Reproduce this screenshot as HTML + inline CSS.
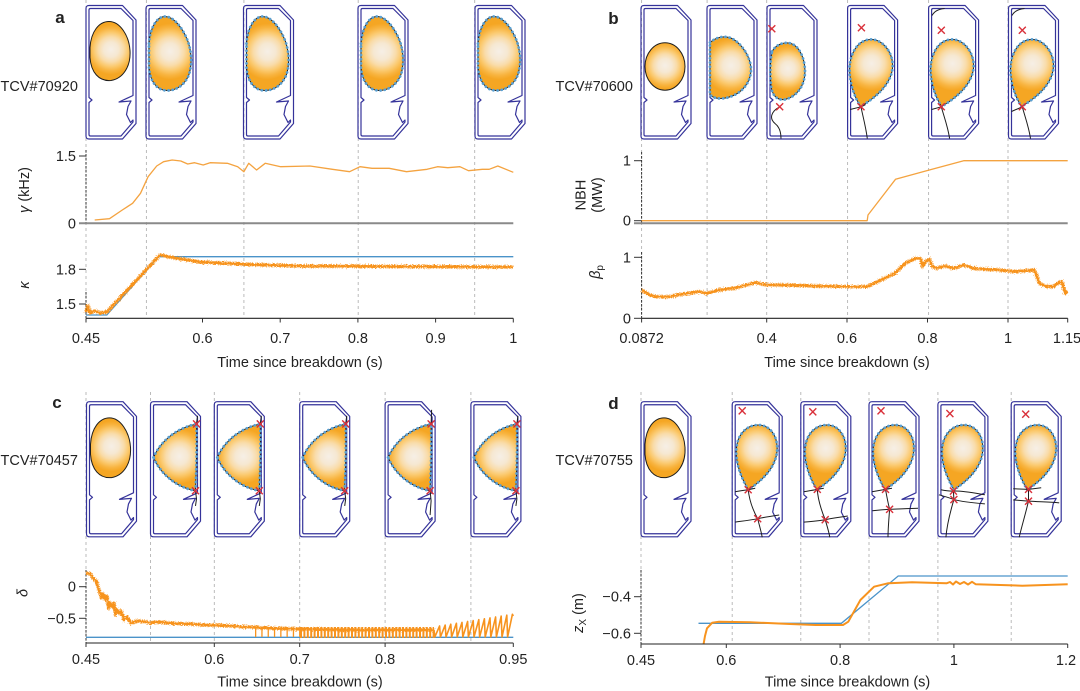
<!DOCTYPE html>
<html><head><meta charset="utf-8">
<style>
html,body{margin:0;padding:0;background:#fff;}
svg{display:block;}
text{font-family:"Liberation Sans",Arial,sans-serif;fill:#222;font-size:14.5px;}
.pl{stroke:#1e1e1e;stroke-width:1;}
.dt{fill:none;stroke:#5aa0d2;stroke-width:2.8;stroke-dasharray:0.01 4.2;stroke-linecap:round;}
.sx{fill:none;stroke:#1e1e1e;stroke-width:1;}
.grid{stroke:#b4b4b4;stroke-width:0.9;stroke-dasharray:3 3;}
.spine{stroke:#333;stroke-width:1;stroke-dasharray:2.5 1.5;}
.tk{stroke:#333;stroke-width:1;}
.ax{stroke:#222;stroke-width:1.1;}
.gax{stroke:#8a8a8a;stroke-width:2;}
.or{fill:none;stroke:#f7931e;stroke-width:3.2;stroke-linejoin:round;}
.ort{fill:none;stroke:#f4a340;stroke-width:1.3;stroke-linejoin:round;}
.bl{fill:none;stroke:#4a93c9;stroke-width:1.3;}
</style></head><body>
<svg width="1080" height="691" viewBox="0 0 1080 691" xmlns="http://www.w3.org/2000/svg">
<defs>
<linearGradient id="stops">
 <stop offset="0" stop-color="#f6efe6"/><stop offset="0.3" stop-color="#f6e8d2"/><stop offset="0.5" stop-color="#f9dcaa"/><stop offset="0.68" stop-color="#fbca70"/><stop offset="0.85" stop-color="#f8b440"/><stop offset="1" stop-color="#f5a623"/>
</linearGradient>
<radialGradient id="gD" href="#stops" gradientUnits="userSpaceOnUse" cx="25" cy="44" r="25"/>
<radialGradient id="gE" href="#stops" gradientUnits="userSpaceOnUse" cx="24" cy="46" r="28"/>
<radialGradient id="gC" href="#stops" gradientUnits="userSpaceOnUse" cx="24" cy="60" r="23"/>
<radialGradient id="gB2" href="#stops" gradientUnits="userSpaceOnUse" cx="24" cy="60" r="27"/>
<radialGradient id="gB3" href="#stops" gradientUnits="userSpaceOnUse" cx="21" cy="63" r="23"/>
<radialGradient id="gBX" href="#stops" gradientUnits="userSpaceOnUse" cx="24" cy="58" r="27"/>
<radialGradient id="gT" href="#stops" gradientUnits="userSpaceOnUse" cx="29" cy="54" r="27"/>
<radialGradient id="gDX" href="#stops" gradientUnits="userSpaceOnUse" cx="25" cy="46" r="25"/>
<filter id="nz" filterUnits="userSpaceOnUse" x="0" y="0" width="1080" height="691">
 <feTurbulence type="fractalNoise" baseFrequency="1.1 0.9" numOctaves="1" seed="4" result="t"/>
 <feDisplacementMap in="SourceGraphic" in2="t" scale="5.5" xChannelSelector="R" yChannelSelector="G"/>
</filter>
<g id="ves" fill="none" stroke="#35339a" stroke-width="1.2" stroke-linejoin="round">
 <path d="M3,0 H36.5 L50,14.5 V118 L36.5,133.5 H3 Q0,133.5 0,130.5 V3 Q0,0 3,0 Z"/>
 <path d="M4.5,3 H35 L47,15 V90 L33,96.5 L45,95.5 L42,101 L40.5,109 L44.5,117 L47,114.5 V116.5 L35,130.5 H4.5 Q3,130.5 3,129 V97 L6,94.5 L3,92 V4.5 Q3,3 4.5,3 Z"/>
</g>
<path id="sD" d="M4,42 C5,26 13,16 23,16 C34,16 43,30 44,45 C45,61 37,73 25,75 C13,76 5,67 4,52 Z"/>
<path id="sE" d="M3,38 C4,22 11,11 19,11 C28,11 37,23 42,36 C46,48 46,59 43,69 C39,79 31,85 21,85 C11,85 4,76 3,62 Z"/>
<ellipse id="sC" cx="24" cy="61" rx="20" ry="23.7"/>
<path id="sB2" d="M3,37 C10,31 18,30 25,33 C36,39 44,53 44,64 C44,77 35,88 21,92 C13,94 6,93 3,89 Z"/>
<path id="sB3" d="M5,46 C9,39 17,36 24,38 C33,41 38,54 38,66 C38,80 30,91 18,94 C10,95 5,90 4,80 C3,68 3,56 5,46 Z"/>
<path id="sBX" d="M13,101 C7,92 2,78 2,64 C2,48 10,35 22,34 C34,33 44,45 45,58 C46,73 35,88 13,101 Z"/>
<path id="sT" d="M3,55 C10,39 26,26 46,22 C46.5,45 46,66 45,88 C27,85 10,72 3,55 Z"/>
<path id="sDX" d="M16,87 C9,75 4,62 4,50 C4,33 14,23 26,23 C38,23 45,34 45,46 C45,62 33,76 16,87 Z"/>
<path id="xm" d="M-3.5,-3.5 L3.5,3.5 M-3.5,3.5 L3.5,-3.5" fill="none" stroke="#d9303a" stroke-width="1.4"/>
</defs>

<!-- ================= PANEL A ================= -->
<g>
<line class="grid" x1="86" y1="0" x2="86" y2="318"/>
<line class="grid" x1="146.4" y1="0" x2="146.4" y2="318"/>
<line class="grid" x1="243.9" y1="0" x2="243.9" y2="318"/>
<line class="grid" x1="358.2" y1="0" x2="358.2" y2="318"/>
<line class="grid" x1="474.7" y1="0" x2="474.7" y2="318"/>

<g transform="translate(86,5.5)"><use href="#ves"/><use href="#sD" class="pl" fill="url(#gD)"/></g>
<g transform="translate(146,5.5)"><use href="#ves"/><use href="#sE" class="pl" fill="url(#gE)"/><use href="#sE" class="dt"/></g>
<g transform="translate(243.5,5.5)"><use href="#ves"/><use href="#sE" class="pl" fill="url(#gE)"/><use href="#sE" class="dt"/></g>
<g transform="translate(358,5.5)"><use href="#ves"/><use href="#sE" class="pl" fill="url(#gE)"/><use href="#sE" class="dt"/></g>
<g transform="translate(475,5.5)"><use href="#ves"/><use href="#sE" class="pl" fill="url(#gE)"/><use href="#sE" class="dt"/></g>

<text x="60" y="23" font-weight="bold" text-anchor="middle" style="font-size:17px">a</text>
<text x="0.5" y="91">TCV#70920</text>

<line class="spine" x1="86" y1="150" x2="86" y2="223"/>
<line class="spine" x1="86" y1="292" x2="86" y2="318"/>
<line class="gax" x1="79" y1="223.3" x2="513.3" y2="223.3"/>
<line class="tk" x1="79" y1="156" x2="86" y2="156"/>
<line class="tk" x1="79" y1="269.3" x2="86" y2="269.3"/>
<line class="tk" x1="79" y1="304" x2="86" y2="304"/>
<text x="76" y="161" text-anchor="end">1.5</text>
<text x="76" y="228.3" text-anchor="end">0</text>
<text x="76" y="274.3" text-anchor="end">1.8</text>
<text x="76" y="309" text-anchor="end">1.5</text>
<text transform="translate(29,190) rotate(-90)" text-anchor="middle"><tspan font-style="italic">γ</tspan> (kHz)</text>
<text transform="translate(29,285) rotate(-90)" text-anchor="middle" font-style="italic">κ</text>

<path class="ort" d="M94.7,220 L109.5,218.7 L122.3,210 L132.6,203.3 L140.5,193.3 L148.1,176.7 L156.7,166 L163.6,161.7 L172.2,160 L180.8,161 L187.7,164 L194.6,162.7 L203.2,165 L210.1,162.7 L227.4,163.3 L237.7,166.7 L243.9,171.7 L248.7,163.3 L256.6,170 L265.2,163.3 L280.7,166.7 L310,166 L332.4,169.3 L349.6,171.7 L360,166.7 L372,168.3 L389.2,168.3 L406.5,171.7 L427.1,169.3 L437.5,166.7 L447.8,167.7 L459.9,166.7 L468.5,170.7 L482.3,169.3 L489.2,169.3 L497.8,166 L513.3,172.3"/>

<path class="bl" d="M86,315 H106.8 L158.5,256.7 H513.3"/>
<path class="or" filter="url(#nz)" d="M86,312 L88,306 L90,313 L95,311 L100,313 L106.8,312 L160,255 L175,258 L200,262 L250,264.5 L300,266 L513,267"/>

<line class="ax" x1="86" y1="318.3" x2="513.3" y2="318.3"/>
<g class="tk">
<line x1="86" y1="318.3" x2="86" y2="322.5"/>
<line x1="202.5" y1="318.3" x2="202.5" y2="322.5"/>
<line x1="280.2" y1="318.3" x2="280.2" y2="322.5"/>
<line x1="357.9" y1="318.3" x2="357.9" y2="322.5"/>
<line x1="435.6" y1="318.3" x2="435.6" y2="322.5"/>
<line x1="513.3" y1="318.3" x2="513.3" y2="322.5"/>
</g>
<g text-anchor="middle">
<text x="86" y="343">0.45</text>
<text x="202.5" y="343">0.6</text>
<text x="280.2" y="343">0.7</text>
<text x="357.9" y="343">0.8</text>
<text x="435.6" y="343">0.9</text>
<text x="513.3" y="343">1</text>
<text x="300" y="367">Time since breakdown (s)</text>
</g>
</g>

<!-- ================= PANEL B ================= -->
<g>
<line class="grid" x1="641.6" y1="0" x2="641.6" y2="318"/>
<line class="grid" x1="707.1" y1="0" x2="707.1" y2="318"/>
<line class="grid" x1="766.7" y1="0" x2="766.7" y2="318"/>
<line class="grid" x1="847.6" y1="0" x2="847.6" y2="318"/>
<line class="grid" x1="928.6" y1="0" x2="928.6" y2="318"/>
<line class="grid" x1="1008" y1="0" x2="1008" y2="318"/>

<g transform="translate(641,5.5)"><use href="#ves"/><use href="#sC" class="pl" fill="url(#gC)"/></g>
<g transform="translate(707,5.5)"><use href="#ves"/><use href="#sB2" class="pl" fill="url(#gB2)"/><use href="#sB2" class="dt"/></g>
<g transform="translate(767,5.5)"><use href="#ves"/><use href="#sB3" class="pl" fill="url(#gB3)"/><use href="#sB3" class="dt"/>
 <path class="sx" d="M12.7,101.3 C4,106 2,113 8,118 C12,121 14,126 14,133"/>
 <use href="#xm" x="4.8" y="23.3"/><use href="#xm" x="12.7" y="101.3"/></g>
<g transform="translate(847.6,5.5)"><use href="#ves"/><use href="#sBX" class="pl" fill="url(#gBX)"/><use href="#sBX" class="dt"/>
 <path class="sx" d="M13.4,101.3 L2.5,104 M13.4,101.3 C15,110 18,120 19.7,133 M13.4,101.3 L18,99"/>
 <use href="#xm" x="13.8" y="22.3"/><use href="#xm" x="13.4" y="101.3"/></g>
<g transform="translate(928.6,5.5)"><use href="#ves"/><use href="#sBX" class="pl" fill="url(#gBX)"/><use href="#sBX" class="dt"/>
 <path class="sx" d="M12.7,101.3 L3,104 M12.7,101.3 C15,110 19,120 21,133 M3.5,10 C6,5 11,3.5 16,3"/>
 <use href="#xm" x="12.7" y="24.7"/><use href="#xm" x="12.7" y="101.3"/></g>
<g transform="translate(1008.5,5.5)"><use href="#ves"/><use href="#sBX" class="pl" fill="url(#gBX)"/><use href="#sBX" class="dt"/>
 <path class="sx" d="M13.8,101.3 L3,106 M13.8,101.3 C16,110 20,120 22,133 M3.5,10 C6,5 11,3.5 16,3"/>
 <use href="#xm" x="13.8" y="24.7"/><use href="#xm" x="13.8" y="101.3"/></g>

<text x="613.4" y="24" font-weight="bold" text-anchor="middle" style="font-size:17px">b</text>
<text x="555.5" y="91">TCV#70600</text>

<line class="spine" x1="641.6" y1="152" x2="641.6" y2="223"/>
<line class="spine" x1="641.6" y1="252" x2="641.6" y2="318"/>
<line class="gax" x1="634" y1="223.3" x2="1067.7" y2="223.3"/>
<line class="tk" x1="634" y1="160.7" x2="641.6" y2="160.7"/>
<line class="tk" x1="634" y1="220.7" x2="641.6" y2="220.7"/>
<line class="tk" x1="634" y1="257.3" x2="641.6" y2="257.3"/>
<line class="tk" x1="634" y1="318.3" x2="641.6" y2="318.3"/>
<text x="631" y="165.7" text-anchor="end">1</text>
<text x="631" y="225.7" text-anchor="end">0</text>
<text x="631" y="262.3" text-anchor="end">1</text>
<text x="631" y="323.3" text-anchor="end">0</text>
<text transform="translate(585.6,195) rotate(-90)" text-anchor="middle">NBH</text>
<text transform="translate(601.8,195) rotate(-90)" text-anchor="middle">(MW)</text>
<text transform="translate(600,272) rotate(-90)" text-anchor="middle"><tspan font-style="italic">β</tspan><tspan style="font-size:10px" dy="3">p</tspan></text>

<path class="ort" d="M641.6,220.7 H867.2 L868,215 L895.5,179.3 L929.3,170 L963.7,160.7 H1067.7"/>
<path class="or" filter="url(#nz)" d="M641.6,290 L650,295 L657,296.7 L667,297 L677.8,295 L698.5,291.7 L707,293.3 L719,290 L735,288 L746.7,285 L755.3,282.7 L767.4,285 L788,285 L815.6,286 L850,286.7 L867.2,286.7 L877.6,281.7 L894.8,273.3 L905.1,263.3 L915.5,258.3 L920.6,258.3 L922.4,266.7 L925,262 L929.3,259 L932,266 L936.2,268.3 L945,266 L953.4,268.3 L963.7,265 L974,268.3 L987.8,269.3 L1000,270 L1015.4,271.7 L1034.3,270 L1039.5,283.3 L1045,286 L1053.3,286.7 L1058,283 L1061.9,281.7 L1065.3,293.3 L1067.7,291.7"/>

<line class="ax" x1="641.6" y1="318.3" x2="1067.7" y2="318.3"/>
<g class="tk">
<line x1="641.6" y1="318.3" x2="641.6" y2="322.5"/>
<line x1="766.7" y1="318.3" x2="766.7" y2="322.5"/>
<line x1="847" y1="318.3" x2="847" y2="322.5"/>
<line x1="927.5" y1="318.3" x2="927.5" y2="322.5"/>
<line x1="1008" y1="318.3" x2="1008" y2="322.5"/>
<line x1="1067.7" y1="318.3" x2="1067.7" y2="322.5"/>
</g>
<g text-anchor="middle">
<text x="641.6" y="343">0.0872</text>
<text x="766.7" y="343">0.4</text>
<text x="847" y="343">0.6</text>
<text x="927.5" y="343">0.8</text>
<text x="1008" y="343">1</text>
<text x="1067" y="343">1.15</text>
<text x="847" y="367">Time since breakdown (s)</text>
</g>
</g>

<!-- ================= PANEL C ================= -->
<g>
<line class="grid" x1="86" y1="392" x2="86" y2="643"/>
<line class="grid" x1="150.5" y1="392" x2="150.5" y2="643"/>
<line class="grid" x1="214.3" y1="392" x2="214.3" y2="643"/>
<line class="grid" x1="299.7" y1="392" x2="299.7" y2="643"/>
<line class="grid" x1="385.1" y1="392" x2="385.1" y2="643"/>
<line class="grid" x1="470.9" y1="392" x2="470.9" y2="643"/>

<g transform="translate(86.5,401.7) scale(1,1.012)"><use href="#ves"/><use href="#sD" class="pl" fill="url(#gD)"/></g>
<g transform="translate(150.5,401.7) scale(1,1.012)"><use href="#ves"/><use href="#sT" class="pl" fill="url(#gT)"/><use href="#sT" class="dt"/>
 <path class="sx" d="M46,22 L47,14 M45,88 L46,96 L45,103"/><use href="#xm" x="46" y="22"/><use href="#xm" x="45" y="88"/></g>
<g transform="translate(214.3,401.7) scale(1,1.012)"><use href="#ves"/><use href="#sT" class="pl" fill="url(#gT)"/><use href="#sT" class="dt"/>
 <path class="sx" d="M46,22 L47,14 M45,88 L46,96 L45,103"/><use href="#xm" x="46" y="22"/><use href="#xm" x="45" y="88"/></g>
<g transform="translate(299.7,401.7) scale(1,1.012)"><use href="#ves"/><use href="#sT" class="pl" fill="url(#gT)"/><use href="#sT" class="dt"/>
 <path class="sx" d="M46,22 L47,14 M45,88 L46,96 L45,103"/><use href="#xm" x="46" y="22"/><use href="#xm" x="45" y="88"/></g>
<g transform="translate(385.1,401.7) scale(1,1.012)"><use href="#ves"/><use href="#sT" class="pl" fill="url(#gT)"/><use href="#sT" class="dt"/>
 <path class="sx" d="M46,22 L46.5,8 M45,88 L46,98 L45,112"/><use href="#xm" x="46" y="22"/><use href="#xm" x="45" y="88"/></g>
<g transform="translate(470.9,401.7) scale(1,1.012)"><use href="#ves"/><use href="#sT" class="pl" fill="url(#gT)"/><use href="#sT" class="dt"/>
 <path class="sx" d="M46,22 L47,14 M45,88 L46,96 L45,103"/><use href="#xm" x="46" y="22"/><use href="#xm" x="45" y="88"/></g>

<text x="57" y="408" font-weight="bold" text-anchor="middle" style="font-size:17px">c</text>
<text x="0.5" y="465">TCV#70457</text>

<line class="spine" x1="86" y1="570" x2="86" y2="643"/>
<line class="tk" x1="79" y1="586.7" x2="86" y2="586.7"/>
<line class="tk" x1="79" y1="618.3" x2="86" y2="618.3"/>
<text x="76" y="591.7" text-anchor="end">0</text>
<text x="76" y="623.3" text-anchor="end">−0.5</text>
<text transform="translate(27.4,593) rotate(-90)" text-anchor="middle" font-style="italic">δ</text>

<path class="bl" d="M86,637.3 H513.3"/>
<path class="or" filter="url(#nz)" d="M86,572.7 L90.3,574 L93,578 L96.5,581.7 L99,590 L101.6,598.3 L103,594 L105,599.3 L107,596 L108.5,608.3 L110,603 L112,606.7 L114,603 L115.4,615 L117,610 L119,613.3 L121,611 L124,620 L127,617 L130.9,623.3 L137,621 L144.7,621.7 L150,623 L160,622 L172.2,623.3 L190,624 L206.7,625 L225,625.5 L241.1,626.7 L260,627.5 L275.6,628.3 L300,629 L350,630 L434,630"/>
<line x1="255" y1="632.5" x2="300" y2="632.5" stroke="#f7931e" stroke-width="9" stroke-dasharray="1.3 5"/>
<line x1="300" y1="632.5" x2="434" y2="632.5" stroke="#f7931e" stroke-width="11" stroke-dasharray="2 1.4"/>
<path fill="none" stroke="#f7931e" stroke-width="1.6" stroke-linejoin="round" d="M434,630 L434.8,637 L439.6,626 L440.4,637 L445.2,625.1 L446,637 L450.8,624.2 L451.6,637 L456.4,623.3 L457.2,637 L462,622.4 L462.8,637 L467.6,621.5 L468.4,637 L473.2,620.6 L474,637 L478.8,619.7 L479.6,637 L484.4,618.8 L485.2,637 L490,617.9 L490.8,637 L495.6,617 L496.4,637 L501.2,616.1 L502,637 L506.8,615.2 L507.6,637 L512.4,614.3 L513.3,616"/>

<line class="ax" x1="86" y1="643" x2="513.3" y2="643"/>
<g class="tk">
<line x1="86" y1="643" x2="86" y2="647"/>
<line x1="214.3" y1="643" x2="214.3" y2="647"/>
<line x1="299.7" y1="643" x2="299.7" y2="647"/>
<line x1="385.1" y1="643" x2="385.1" y2="647"/>
<line x1="513.3" y1="643" x2="513.3" y2="647"/>
</g>
<g text-anchor="middle">
<text x="86" y="664">0.45</text>
<text x="214.3" y="664">0.6</text>
<text x="299.7" y="664">0.7</text>
<text x="385.1" y="664">0.8</text>
<text x="513.3" y="664">0.95</text>
<text x="300" y="686.5">Time since breakdown (s)</text>
</g>
</g>

<!-- ================= PANEL D ================= -->
<g>
<line class="grid" x1="641" y1="392" x2="641" y2="644"/>
<line class="grid" x1="732.2" y1="392" x2="732.2" y2="644"/>
<line class="grid" x1="800.8" y1="392" x2="800.8" y2="644"/>
<line class="grid" x1="869" y1="392" x2="869" y2="644"/>
<line class="grid" x1="937.9" y1="392" x2="937.9" y2="644"/>
<line class="grid" x1="1011.2" y1="392" x2="1011.2" y2="644"/>

<g transform="translate(641,401.7) scale(1,1.012)"><use href="#ves"/><use href="#sD" class="pl" fill="url(#gD)"/></g>
<g transform="translate(732.2,401.7) scale(1,1.012)"><use href="#ves"/><use href="#sDX" class="pl" fill="url(#gDX)"/><use href="#sDX" class="dt"/>
 <path class="sx" d="M3,89 C8,88 12,87.5 16,87 L23,85.5 M16,87 C17,96 20,106 25.5,115.6 M3,119 C10,118 18,117 25.5,115.6 C33,114 40,113 47,112 M25.5,115.6 C27,122 29,128 30,134"/>
 <use href="#xm" x="10" y="9"/><use href="#xm" x="16" y="87"/><use href="#xm" x="25.5" y="115.6"/></g>
<g transform="translate(800.8,401.7) scale(1,1.012)"><use href="#ves"/><use href="#sDX" class="pl" fill="url(#gDX)"/><use href="#sDX" class="dt"/>
 <path class="sx" d="M3,89 C8,88 12,87.5 16.5,86.6 L23,85.5 M16.5,86.6 C17,96 20,106 24.4,116.6 M3,119 C10,118.5 18,117.5 24.4,116.6 C33,115 40,114 47,113 M24.4,116.6 C26,122 28,128 29,134"/>
 <use href="#xm" x="12" y="10"/><use href="#xm" x="16.5" y="86.6"/><use href="#xm" x="24.4" y="116.6"/></g>
<g transform="translate(869,401.7) scale(1,1.012)"><use href="#ves"/><use href="#sDX" class="pl" fill="url(#gDX)"/><use href="#sDX" class="dt"/>
 <path class="sx" d="M3,89 L16.5,86.6 L23,85.5 M16.5,86.6 C18,95 19,100 20.6,106.3 M3.4,107.7 C10,107 15,106.6 20.6,106.3 C30,106 40,105.5 49,105.3 M20.6,106.3 C20,115 19,125 19,134"/>
 <use href="#xm" x="12" y="9"/><use href="#xm" x="16.5" y="86.6"/><use href="#xm" x="20.6" y="106.3"/></g>
<g transform="translate(937.9,401.7) scale(1,1.012)"><use href="#ves"/><use href="#sDX" class="pl" fill="url(#gDX)"/><use href="#sDX" class="dt"/>
 <path class="sx" d="M1,92 C8,94 12,95 16,96.7 C25,99 35,100 47,101 M3,87 C8,88 12,88.5 15.5,88.3 C25,88 35,90 47,92 M16,96.7 C12,110 9,122 8,134 M15.5,88.3 L16,96.7"/>
 <use href="#xm" x="12" y="11.7"/><use href="#xm" x="15.5" y="88.3"/><use href="#xm" x="16" y="96.7"/></g>
<g transform="translate(1011.2,401.7) scale(1,1.012)"><use href="#ves"/><use href="#sDX" class="pl" fill="url(#gDX)"/><use href="#sDX" class="dt"/>
 <path class="sx" d="M2,86 L17.3,86.6 L30,85 M2,97 L17.3,98.3 C28,99 38,99 48,100 M17.3,98.3 C14,112 10,125 8,134 M17.3,86.6 L17.3,98.3"/>
 <use href="#xm" x="14.5" y="12.3"/><use href="#xm" x="17.3" y="86.6"/><use href="#xm" x="17.3" y="98.3"/></g>

<text x="613.4" y="409" font-weight="bold" text-anchor="middle" style="font-size:17px">d</text>
<text x="555.5" y="465">TCV#70755</text>

<line class="spine" x1="641" y1="570" x2="641" y2="644"/>
<line class="tk" x1="634" y1="596.7" x2="641" y2="596.7"/>
<line class="tk" x1="634" y1="633.3" x2="641" y2="633.3"/>
<text x="631" y="601.7" text-anchor="end">−0.4</text>
<text x="631" y="638.3" text-anchor="end">−0.6</text>
<text transform="translate(583,613) rotate(-90)" text-anchor="middle"><tspan font-style="italic">z</tspan><tspan style="font-size:10px" dy="3">X</tspan><tspan dy="-3"> (m)</tspan></text>

<path class="bl" d="M698.5,623.3 L841.4,623.3 L898.2,576 L1067.7,576"/>
<path fill="none" stroke="#f7931e" stroke-width="2" stroke-linejoin="round" d="M703.6,644 L705,636 L707,628.3 L712.2,622.7 L719,621.7 L750,622.3 L790,624 L815.6,625 L843,625 L848.3,621.7 L860.4,600 L874.1,586.7 L887.9,583.3 L912,582.3 L946.5,583.3 L950,582 L953,584.5 L956,581.5 L960,584 L964,582 L968,584.5 L972,581.8 L975.8,584.3 L1022.3,585.7 L1067.7,584.3"/>

<line class="ax" x1="641" y1="644" x2="1067.7" y2="644"/>
<g class="tk">
<line x1="641" y1="644" x2="641" y2="648"/>
<line x1="726.3" y1="644" x2="726.3" y2="648"/>
<line x1="840.1" y1="644" x2="840.1" y2="648"/>
<line x1="953.9" y1="644" x2="953.9" y2="648"/>
<line x1="1067.7" y1="644" x2="1067.7" y2="648"/>
</g>
<g text-anchor="middle">
<text x="641" y="665">0.45</text>
<text x="726.3" y="665">0.6</text>
<text x="840.1" y="665">0.8</text>
<text x="953.9" y="665">1</text>
<text x="1066" y="665">1.2</text>
<text x="847.5" y="686.5">Time since breakdown (s)</text>
</g>
</g>
</svg>
</body></html>
